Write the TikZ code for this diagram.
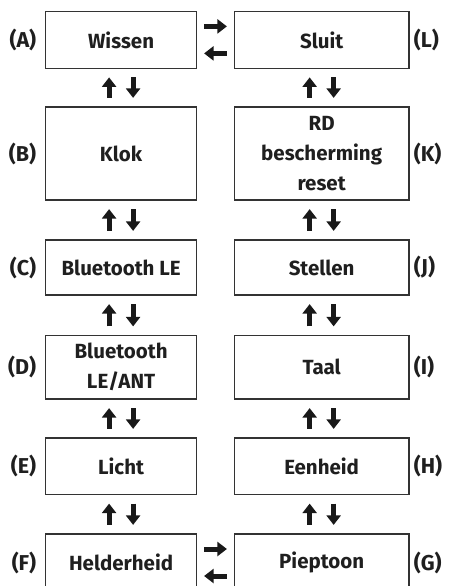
\documentclass[tikz,border=0pt]{standalone}
\usepackage{fontspec}
\setmainfont{Fira Sans}
\usetikzlibrary{arrows.meta}

\begin{document}
\begin{tikzpicture}[x=1pt, y=-1pt,
    box/.style={draw=black!80, line width=1.2pt, inner sep=0pt, align=center, text=black!88, font=\fontsize{20.5}{30}\selectfont\bfseries},
    lbox/.style={box, minimum width=151.2pt},
    rbox/.style={box, minimum width=174.7pt},
    lbl/.style={inner sep=0pt, text=black!88, font=\fontsize{21.5}{25}\selectfont\bfseries},
    arr/.style={line width=5pt, black!90, -{Triangle[width=14pt, length=9.5pt]}},
    varr/.style={arr, shorten <=8.5pt, shorten >=8.5pt},
    harr/.style={arr, shorten <=6.8pt, shorten >=6.8pt}]
    \useasboundingbox (0,0) rectangle (448,586);

    % Left column
    \node[lbox, minimum height=56.8pt] (A) at (121.1,39.9) {Wissen};
    \node[lbox, minimum height=93pt] (B) at (121.1,153.5) {Klok};
    \node[lbox, minimum height=55pt] (C) at (121.1,267.5) {Bluetooth LE};
    \node[lbox, minimum height=63.5pt] (D) at (121.1,367.25) {Bluetooth\\LE/ANT};
    \node[lbox, minimum height=56.5pt] (E) at (121.1,466.25) {Licht};
    \node[lbox, minimum height=57pt] (F) at (121.1,562.5) {Helderheid};

    % Right column
    \node[rbox, minimum height=56.8pt] (L) at (321.65,39.9) {Sluit};
    \node[rbox, minimum height=93pt] (K) at (321.65,153.5) {RD\\bescherming\\reset};
    \node[rbox, minimum height=55pt] (J) at (321.65,267.5) {Stellen};
    \node[rbox, minimum height=63.5pt] (I) at (321.65,367.25) {Taal};
    \node[rbox, minimum height=56.5pt] (H) at (321.65,466.25) {Eenheid};
    \node[rbox, minimum height=57pt] (G) at (321.65,562.5) {Pieptoon};

    % Letters
    \foreach \n in {A,B,C,D,E,F}
        \node[lbl, anchor=east] (l\n) at ([xshift=-8.5pt]\n.west) {(\n)};
    \foreach \n in {L,K,J,I,H,G}
        \node[lbl, anchor=west] (l\n) at ([xshift=4pt]\n.east) {(\n)};

    % Up and down arrows
    \foreach \hi/\lo in {A/B, B/C, C/D, D/E, E/F, L/K, K/J, J/I, I/H, H/G} {
        \draw[varr] ([xshift=-12pt]\lo.north) -- ([xshift=-12pt]\hi.south);
        \draw[varr] ([xshift=12pt]\hi.south) -- ([xshift=12pt]\lo.north);
    }

    % Left and right arrows
    \draw[harr] ([yshift=13.5pt]A.east) -- ([yshift=13.5pt]L.west);
    \draw[harr] ([yshift=-13.5pt]L.west) -- ([yshift=-13.5pt]A.east);
    \draw[harr] ([yshift=13.5pt]F.east) -- ([yshift=13.5pt]G.west);
    \draw[harr] ([yshift=-13.5pt]G.west) -- ([yshift=-13.5pt]F.east);
\end{tikzpicture}
\end{document}
